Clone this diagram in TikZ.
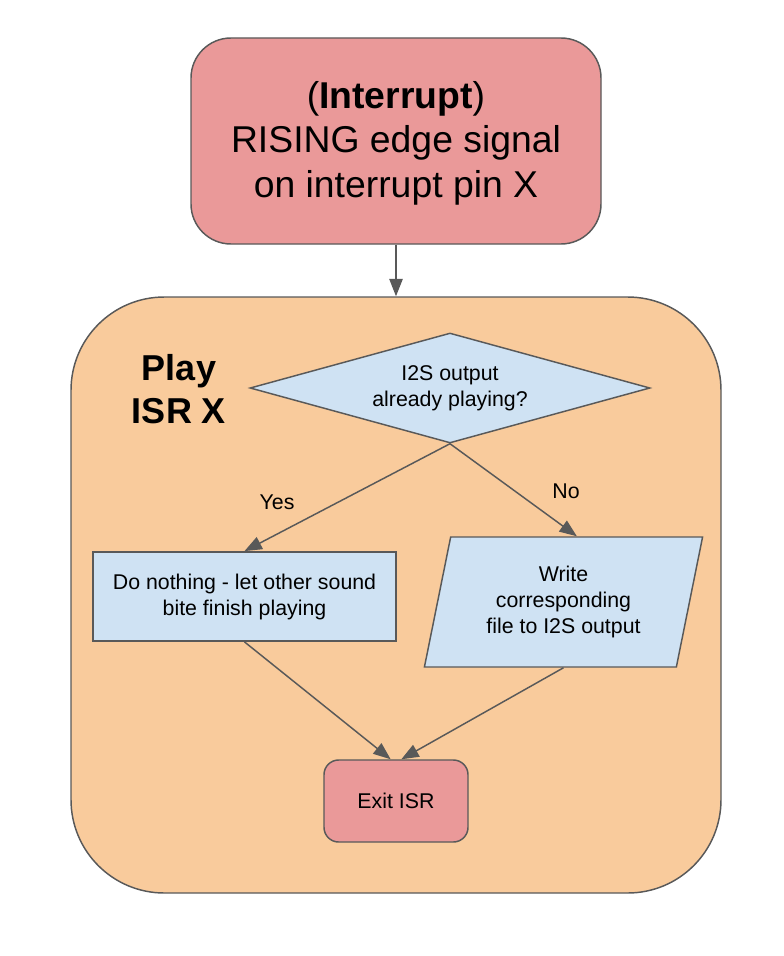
\documentclass[tikz,border=0pt]{standalone}
\usepackage{fontspec}
\setmainfont{Liberation Sans}
\usetikzlibrary{shapes.geometric,arrows.meta}

\definecolor{pinkfill}{RGB}{234,153,153}
\definecolor{orangefill}{RGB}{249,203,156}
\definecolor{bluefill}{RGB}{207,226,243}
\definecolor{edgegray}{RGB}{89,89,89}

\tikzset{every picture/.style={line width=1.1pt},
  flowbox/.style={draw=edgegray, fill=bluefill, align=center, inner sep=0pt, font=\fontsize{16}{19.5}\selectfont},
  flowarrow/.style={draw=edgegray, -{Triangle[length=13pt,width=10pt]}},
  smalltext/.style={font=\fontsize{16}{19}\selectfont}
}

\begin{document}
\begin{tikzpicture}[x=0.75pt,y=0.75pt,yscale=-1,xscale=1]
\useasboundingbox (0,0) rectangle (784,956);

%Shape: Rounded Rect [id:isr]
\node (isr) [draw=edgegray, fill=orangefill, rounded corners=70pt, minimum width=487.5pt, minimum height=447pt] at (396,595) {};
%Shape: Rounded Rect [id:intr]
\node (intr) [draw=edgegray, fill=pinkfill, rounded corners=30pt, minimum width=307.5pt, minimum height=154.5pt, align=center, font=\fontsize{28}{33.5}\selectfont] at (396,141) {\strut(\textbf{Interrupt})\\RISING edge signal\\on interrupt pin X};
%Shape: Diamond [id:dec]
\node (dec) [flowbox, diamond, aspect=3.6, minimum width=300pt, minimum height=82.5pt] at (450,388) {I2S output\\already playing?};
%Shape: Rectangle [id:nothing]
\node (nothing) [flowbox, minimum width=227pt, minimum height=67pt] at (244.5,596.5) {Do nothing - let other sound\\bite finish playing};
%Shape: Parallelogram [id:write]
\node (write) [flowbox, trapezium, trapezium left angle=76, trapezium right angle=104, trapezium stretches=true, minimum width=209pt, minimum height=97.5pt] at (563.5,602) {Write\\corresponding\\file to I2S output};
%Shape: Rounded Rect [id:exit]
\node (exit) [draw=edgegray, fill=pinkfill, rounded corners=11pt, minimum width=108pt, minimum height=61.5pt, font=\fontsize{16}{19.5}\selectfont] at (396,801) {Exit ISR};

%Straight Lines
\draw [flowarrow] (intr.south) -- (isr.north);
\draw [flowarrow] (dec.south) -- (nothing.north);
\draw [flowarrow] (dec.south) -- ([xshift=10pt]write.north);
\draw [flowarrow] (nothing.south) -- ([xshift=-4pt]exit.north);
\draw [flowarrow] (write.south) -- ([xshift=4pt]exit.north);

% Text Node
\node (title) [font=\fontsize{27}{32}\selectfont\bfseries, align=center] at (179,389) {Play\\ISR X};
% Text Node
\node (yes) [smalltext] at (277,502) {Yes};
% Text Node
\node (no) [smalltext] at (566,491) {No};

\end{tikzpicture}
\end{document}
